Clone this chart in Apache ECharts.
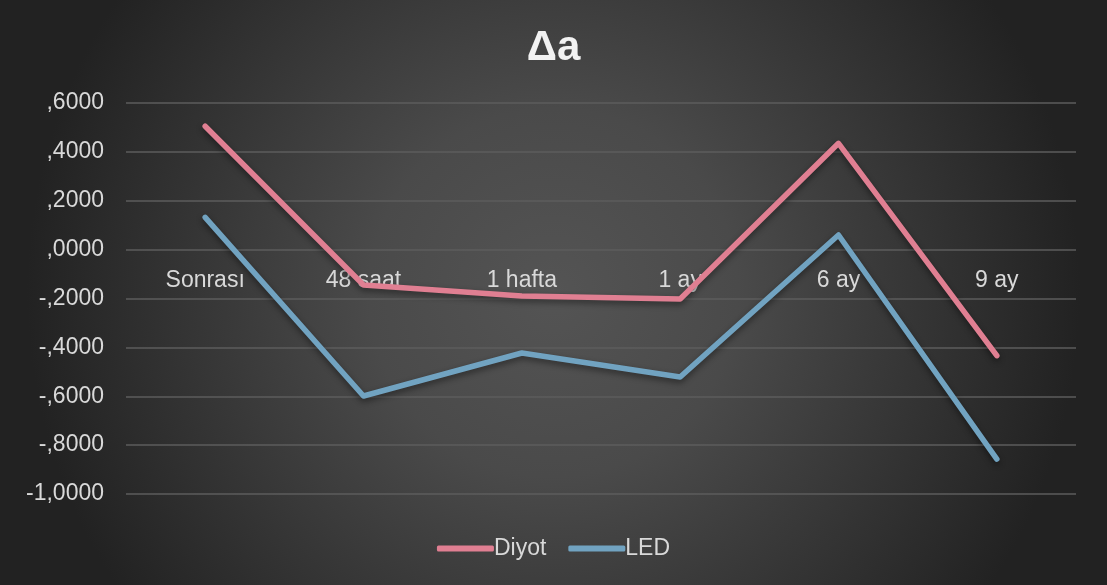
<!DOCTYPE html>
<html>
<head>
<meta charset="utf-8">
<script src="https://cdn.jsdelivr.net/npm/echarts@6/dist/echarts.min.js"></script>
<style>
  html, body { margin: 0; padding: 0; }
  #chart { width: 1107px; height: 585px; }
</style>
</head>
<body>
<div id="chart"></div>
<script>
var categories = ["Sonrası", "48 saat", "1 hafta", "1 ay", "6 ay", "9 ay"];
var diyot = [0.505, -0.145, -0.19, -0.202, 0.435, -0.434];
var led = [0.132, -0.599, -0.423, -0.521, 0.06, -0.857];
var yTicks = [0.6, 0.4, 0.2, 0, -0.2, -0.4, -0.6, -0.8, -1.0];
var yTickLabels = [",6000", ",4000", ",2000", ",0000", "-,2000", "-,4000", "-,6000", "-,8000", "-1,0000"];

var chart = echarts.init(document.getElementById("chart"));
var textColor = "#d9d9d9";

// grid height 391px over 1.6 units -> zero line sits 1.0 unit above the bottom
var gridTop = 103, gridBottom = 91;
var zeroOffset = (585 - gridTop - gridBottom) * (1.0 / 1.6);

chart.setOption({
  backgroundColor: {
    type: "radial",
    x: 0.5, y: 0.5, r: 0.9,
    colorStops: [
      { offset: 0, color: "#545454" },
      { offset: 0.35, color: "#4a4a4a" },
      { offset: 1, color: "#222222" }
    ]
  },
  textStyle: { fontFamily: "Liberation Sans, Arial, sans-serif" },
  title: {
    text: "Δa",
    left: "center",
    top: 22,
    textStyle: { color: "#f2f2f2", fontSize: 42, fontWeight: "bold" }
  },
  legend: {
    bottom: 20,
    left: "center",
    icon: "roundRect",
    itemWidth: 57,
    itemHeight: 6,
    itemGap: 22,
    textStyle: { color: textColor, fontSize: 23, padding: [0, 0, 0, -5] },
    data: ["Diyot", "LED"]
  },
  grid: { left: 126, right: 31, top: gridTop, bottom: gridBottom },
  xAxis: {
    type: "category",
    data: categories,
    boundaryGap: true,
    offset: -zeroOffset,
    axisLine: { show: false, onZero: false },
    axisTick: { show: false },
    axisLabel: { color: textColor, fontSize: 23, margin: 20 }
  },
  yAxis: {
    type: "value",
    min: -1,
    max: 0.6,
    interval: 0.2,
    axisLine: { show: false },
    axisTick: { show: false },
    splitLine: { lineStyle: { color: "#5c5c5c", width: 1.5 } },
    axisLabel: {
      color: textColor,
      fontSize: 23,
      margin: 22,
      formatter: function (v) {
        for (var i = 0; i < yTicks.length; i++) {
          if (Math.abs(yTicks[i] - v) < 1e-9) return yTickLabels[i];
        }
        return "";
      }
    }
  },
  series: [
    {
      name: "Diyot",
      type: "line",
      data: diyot,
      symbol: "none",
      color: "#e07f92",
      lineStyle: {
        width: 5.5,
        cap: "round",
        join: "round",
        shadowColor: "rgba(0,0,0,0.45)",
        shadowBlur: 6,
        shadowOffsetY: 3
      }
    },
    {
      name: "LED",
      type: "line",
      data: led,
      symbol: "none",
      color: "#71a3c1",
      lineStyle: {
        width: 5.5,
        cap: "round",
        join: "round",
        shadowColor: "rgba(0,0,0,0.45)",
        shadowBlur: 6,
        shadowOffsetY: 3
      }
    }
  ]
});
</script>
</body>
</html>
